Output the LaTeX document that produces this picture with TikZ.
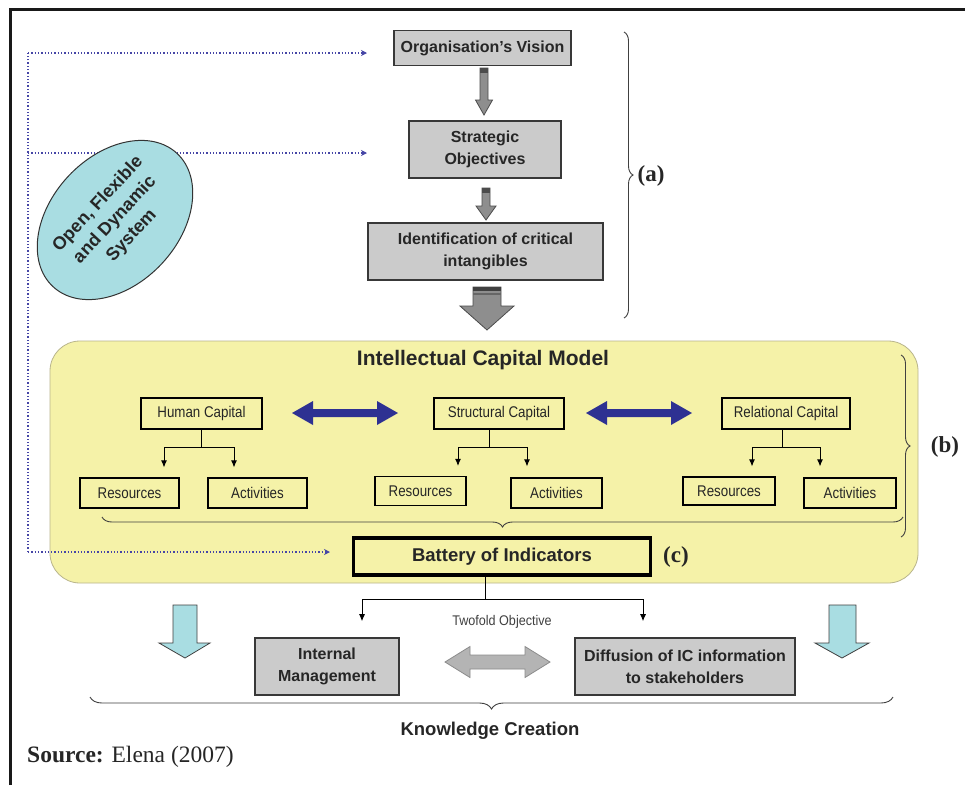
\documentclass[tikz,border=0pt]{standalone}
\usepackage{fontspec}
\setmainfont{Liberation Sans}
\newfontfamily\narrowf[FakeStretch=0.86]{Liberation Sans}
\newfontfamily\semif[FakeStretch=0.9]{Liberation Sans}
\newfontfamily\seriff{Liberation Serif}
\usetikzlibrary{shapes.geometric,decorations.pathreplacing,arrows.meta}
\definecolor{boxgray}{HTML}{CBCBCB}
\definecolor{boxborder}{HTML}{383838}
\definecolor{arrgray}{HTML}{8E8E8E}
\definecolor{yel}{HTML}{F5F2A8}
\definecolor{yelborder}{HTML}{B9B58C}
\definecolor{bluearr}{HTML}{2E3192}
\definecolor{dotblue}{HTML}{4646A6}
\definecolor{cyanf}{HTML}{A9DDE2}
\definecolor{lgarr}{HTML}{B4B4B4}
\tikzset{
  graybox/.style={draw=boxborder, line width=1.6pt, fill=boxgray, text=black!85,
    font=\bfseries\fontsize{16}{22}\selectfont, align=center, inner sep=0pt},
  lowgray/.style={graybox, font=\bfseries\fontsize{16}{22}\selectfont},
  capbox/.style={draw=black, line width=1.2pt, text=black!85,
    font=\narrowf\fontsize{15.5}{17}\selectfont, inner sep=0pt},
  tree/.style={line width=0.9pt, -{Latex[length=7pt,width=6pt]}},
  dotarr/.style={dotblue, dotted, line width=1.3pt, -{Stealth[length=6pt,width=6pt]}},
  brc/.style={decorate, decoration={brace, amplitude=#1}, line width=0.9pt, black!75},
  lbl/.style={font=\seriff\bfseries\fontsize{23}{25}\selectfont, text=black!85},
  blockarr/.style={line width=0.8pt, line join=miter},
}
\begin{document}
\begin{tikzpicture}[x=1pt,y=-1pt]
\useasboundingbox (0,0) rectangle (965,785);
\fill[white] (0,0) rectangle (965,785);
% frame
\draw[line width=3pt, black!90] (10,785) -- (10,9.5) -- (965,9.5);

% yellow model box
\node[draw=yelborder, line width=0.8pt, fill=yel, rounded corners=30pt,
  minimum width=868pt, minimum height=242pt, inner sep=0pt] (icm) at (484,462) {};

% dotted feedback lines
\coordinate (d0) at (28,552);
\coordinate (d1) at (28,53);
\coordinate (d2) at (28,153);
\coordinate (e1) at (367,53);
\coordinate (e2) at (367,153);
\coordinate (e3) at (330,552);
\draw[dotblue, dotted, line width=1.3pt] (d0) -- (d1);
\draw[dotarr] (d1) -- (e1);
\draw[dotarr] (d2) -- (e2);
\draw[dotarr] (d0) -- (e3);

% ellipse
\node[draw=black!80, line width=1pt, fill=cyanf, ellipse, rotate=47,
  minimum width=182pt, minimum height=128pt, inner sep=0pt, align=center,
  font=\bfseries\fontsize{18}{23}\selectfont, text=black!85] (osys) at (115,220)
  {Open, Flexible\\and Dynamic\\System};

% top column
\node[graybox, minimum width=177pt, minimum height=35pt] (vision) at (482.5,48) {Organisation's Vision};
\node[graybox, minimum width=152pt, minimum height=57pt] (strat) at (485,149.5) {Strategic\\Objectives};
\node[graybox, minimum width=235pt, minimum height=57pt] (ident) at (485.5,251.5) {Identification of critical\\intangibles};

% gray block arrows
\draw[blockarr, draw=black!70, fill=arrgray] (480,68) -- (488,68) -- (488,100) -- (492.5,100) -- (484,115) -- (475.5,100) -- (480,100) -- cycle;
\fill[black!70] (480,68) rectangle (488,73);
\draw[blockarr, draw=black!70, fill=arrgray] (482,188) -- (490,188) -- (490,206) -- (496,206) -- (486,220) -- (476,206) -- (482,206) -- cycle;
\fill[black!70] (482,188) rectangle (490,193);
\draw[blockarr, draw=black!70, fill=arrgray] (473,287) -- (501,287) -- (501,306) -- (514,306) -- (487,330) -- (460,306) -- (473,306) -- cycle;
\fill[black!75] (473,287) rectangle (501,291);
\fill[black!60] (473,293) rectangle (501,295);

% brace (a)
\draw[brc=9pt] (624,32) -- (624,318);
\node[lbl] (la) at (651,176) {(a)};

% model title
\node[font=\bfseries\fontsize{21}{24}\selectfont, text=black!85] (title) at (483,360) {Intellectual Capital Model};

% capital boxes
\node[capbox, minimum width=121pt, minimum height=31pt] (hc) at (201.5,413.5) {Human Capital};
\node[capbox, minimum width=130pt, minimum height=31pt] (sc) at (499,413.5) {Structural Capital};
\node[capbox, minimum width=128pt, minimum height=31pt] (rc) at (786,413.5) {Relational Capital};

\node[capbox, minimum width=99pt, minimum height=30pt] (hres) at (129.5,493) {Resources};
\node[capbox, minimum width=99pt, minimum height=30pt] (hact) at (257.5,493) {Activities};
\node[capbox, minimum width=91pt, minimum height=29pt] (sres) at (420.5,491) {Resources};
\node[capbox, minimum width=91pt, minimum height=30pt] (sact) at (556.5,493) {Activities};
\node[capbox, minimum width=92pt, minimum height=28pt] (rres) at (729,491) {Resources};
\node[capbox, minimum width=92pt, minimum height=30pt] (ract) at (850,493) {Activities};

% trees
\draw[tree] (hc.south) -- ++(0,18) -| ([xshift=34.5pt,yshift=10pt]hres.north);
\draw[tree] (hc.south) -- ++(0,18) -| ([xshift=-23.5pt,yshift=10pt]hact.north);
\draw[tree] ([xshift=-10pt]sc.south) -- ++(0,18) -| ([xshift=37.5pt,yshift=10pt]sres.north);
\draw[tree] ([xshift=-10pt]sc.south) -- ++(0,18) -| ([xshift=-29.5pt,yshift=11pt]sact.north);
\draw[tree] ([xshift=-4pt]rc.south) -- ++(0,18) -| ([xshift=23pt,yshift=10pt]rres.north);
\draw[tree] ([xshift=-4pt]rc.south) -- ++(0,18) -| ([xshift=-30pt,yshift=11pt]ract.north);

% blue double arrows
\fill[bluearr] (292,413) -- (313,401) -- (313,409) -- (377,409) -- (377,401) -- (398,413) -- (377,425) -- (377,417) -- (313,417) -- (313,425) -- cycle;
\fill[bluearr] (586,413) -- (607,401) -- (607,409) -- (671,409) -- (671,401) -- (692,413) -- (671,425) -- (671,417) -- (607,417) -- (607,425) -- cycle;

% braces in model
\draw[brc=10pt] (903,517) -- (102,517);
\draw[brc=9pt] (901,355) -- (901,537);
\node[lbl] (lb) at (945,447) {(b)};

% battery
\node[draw=black, line width=3.5pt, fill=yel, minimum width=297pt, minimum height=37pt,
  inner sep=0pt, font=\bfseries\fontsize{18.5}{20}\selectfont, text=black!85] (bat) at (502,556.5) {Battery of Indicators};
\node[lbl] (lc) at (676,557) {(c)};

% objectives
\node[lowgray, minimum width=144pt, minimum height=57pt] (intm) at (327,666.5) {Internal\\Management};
\node[lowgray, minimum width=220pt, minimum height=57pt] (diff) at (685,666.5) {Diffusion of IC information\\to stakeholders};
\draw[tree] ([xshift=-17pt]bat.south) -- ++(0,23) -| ([xshift=35pt,yshift=16pt]intm.north);
\draw[tree] ([xshift=-17pt]bat.south) -- ++(0,23) -| ([xshift=-42pt,yshift=16pt]diff.north);
\node[font=\semif\fontsize{14}{16}\selectfont, text=black!75] (two) at (502,622) {Twofold Objective};

% gray double arrow
\draw[blockarr, draw=black!45, fill=lgarr] (445,662) -- (470,646.5) -- (470,655) -- (525,655) -- (525,646.5) -- (550,662) -- (525,677.5) -- (525,669) -- (470,669) -- (470,677.5) -- cycle;

% cyan arrows
\draw[blockarr, draw=black!75, fill=cyanf] (173,605) -- (197,605) -- (197,643) -- (210,643) -- (185,658) -- (159,643) -- (173,643) -- cycle;
\draw[blockarr, draw=black!75, fill=cyanf] (829,605) -- (856,605) -- (856,643) -- (869,643) -- (842,658) -- (815,643) -- (829,643) -- cycle;

% knowledge brace
\draw[brc=12pt] (893,697) -- (90,697);
\node[font=\bfseries\fontsize{18.5}{20}\selectfont, text=black!85] (know) at (490,731) {Knowledge Creation};

% source
\node[anchor=west, inner sep=0pt, font=\seriff\fontsize{23.5}{25}\selectfont, text=black!85] (src) at (27,757) {\textbf{Source:} Elena (2007)};
\end{tikzpicture}
\end{document}
